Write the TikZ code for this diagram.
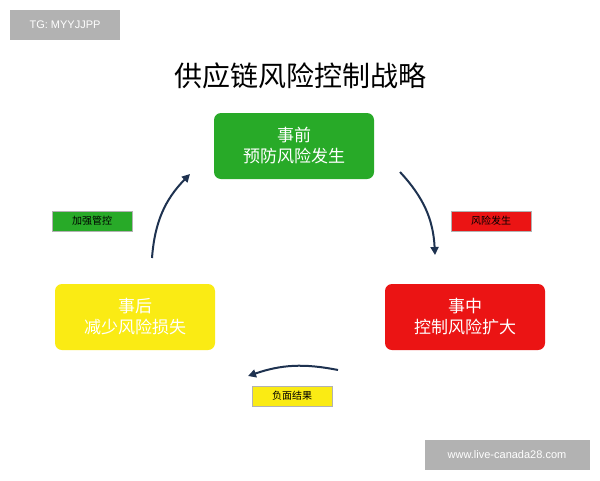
\documentclass[tikz,border=0pt]{standalone}
\usepackage{fontspec}
\setmainfont{Liberation Sans}
\newfontfamily\cjk{Noto Sans CJK SC}
\usetikzlibrary{arrows.meta}
\definecolor{boxgreen}{RGB}{40,170,40}
\definecolor{boxred}{RGB}{235,20,20}
\definecolor{boxyellow}{RGB}{250,235,20}
\definecolor{arrowblue}{RGB}{30,50,80}
\tikzset{
  stage/.style={rounded corners=7pt, minimum width=160pt, minimum height=66pt,
    align=center, font=\cjk\fontsize{17}{21}\selectfont, inner sep=2pt},
  tag/.style={draw=gray!60, minimum width=80pt, minimum height=20pt, inner sep=1pt,
    font=\cjk\fontsize{10}{12}\selectfont},
  cycle/.style={arrowblue, line width=2pt, -{Triangle[length=8pt,width=8pt]}},
  wmark/.style={fill=gray!60, text=white, font=\fontsize{11}{13}\selectfont, inner sep=0pt}
}
\begin{document}
\begin{tikzpicture}[x=1pt,y=-1pt]
	\useasboundingbox[fill=white] (0,0) rectangle (600,480);
	\node[wmark, minimum width=110pt, minimum height=30pt] (tg) at (65,25) {TG: MYYJJPP};
	\node[wmark, minimum width=165pt, minimum height=30pt] (www) at (507,455) {www.live-canada28.com};
	\node[font=\cjk\fontsize{28}{32}\selectfont] (title) at (300,76) {供应链风险控制战略};
	% stages
	\node[stage, fill=boxgreen, text=white] (before) at (294,146) {事前\\预防风险发生};
	\node[stage, fill=boxred, text=white] (during) at (465,317) {事中\\控制风险扩大};
	\node[stage, fill=boxyellow, text=white] (after) at (135,317) {事后\\减少风险损失};
	% cycle arrows
	\coordinate (a1) at (400,172);
	\coordinate (b1) at (435,255);
	\coordinate (a2) at (338,370);
	\coordinate (b2) at (248,376);
	\coordinate (a3) at (152,258);
	\coordinate (b3) at (190,174);
	\draw[cycle] (a1) to[bend left=20] (b1);
	\draw[cycle] (a2) to[bend right=15] (b2);
	\draw[cycle] (a3) to[bend left=20] (b3);
	% tags
	\node[tag, fill=boxgreen] (control) at (92,221) {加强管控};
	\node[tag, fill=boxred] (risk) at (491,221) {风险发生};
	\node[tag, fill=boxyellow] (result) at (292,396) {负面结果};
\end{tikzpicture}
\end{document}
